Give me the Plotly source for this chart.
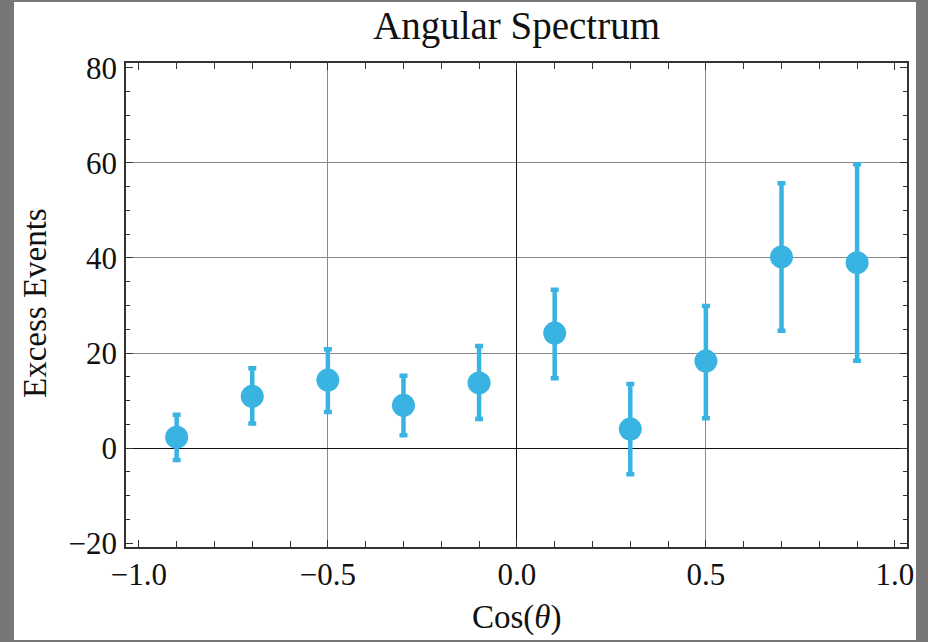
import plotly.graph_objects as go

# ---- data ----
cos_theta = [-0.9, -0.7, -0.5, -0.3, -0.1, 0.1, 0.3, 0.5, 0.7, 0.9]
excess = [2.3, 10.9, 14.3, 9.0, 13.7, 24.2, 4.0, 18.3, 40.2, 39.0]
err_plus = [4.7, 5.9, 6.5, 6.2, 7.8, 9.1, 9.5, 11.6, 15.5, 20.7]
err_minus = [4.8, 5.7, 6.7, 6.3, 7.6, 9.5, 9.5, 12.0, 15.5, 20.6]

x_tickvals = [-1.0, -0.5, 0.0, 0.5, 1.0]
x_ticktext = ["\u22121.0", "\u22120.5", "0.0", "0.5", "1.0"]
y_tickvals = [-20, 0, 20, 40, 60, 80]
y_ticktext = ["\u221220", "0", "20", "40", "60", "80"]
x_grid = [-0.5, 0.0, 0.5]
y_grid = [20, 40, 60]

title_text = "Angular Spectrum"
x_title = "Cos(<i>\u03b8</i>)"
y_title = "Excess Events"

# ---- style ----
W, H = 928, 642
ML, MR, MT, MB = 126, 21, 63, 95
BLUE = "#39B3E2"
FONT = "Liberation Serif"
GRAY_BG = "#777777"
plot_w = W - ML - MR
plot_h = H - MT - MB

fig = go.Figure()
fig.add_trace(go.Scatter(
    x=cos_theta, y=excess, mode="markers",
    marker=dict(size=23, color=BLUE),
    error_y=dict(type="data", symmetric=False, array=err_plus, arrayminus=err_minus,
                 color=BLUE, thickness=4.5, width=4),
    showlegend=False,
))

axis_common = dict(
    showline=True, linecolor="#333333", linewidth=1.5, mirror="allticks",
    ticks="inside", ticklen=7, tickwidth=1.2, tickcolor="#333333",
    showgrid=False,
    tickfont=dict(family=FONT, size=31, color="#111111"),
)

fig.update_layout(
    width=W, height=H,
    margin=dict(l=ML, r=MR, t=MT, b=MB, pad=0),
    paper_bgcolor=GRAY_BG, plot_bgcolor="white",
    title=dict(text=title_text, x=0.5, xref="paper", xanchor="center",
               y=1 - 25 / H, yref="container", yanchor="middle",
               font=dict(family=FONT, size=39, color="#111111")),
    xaxis=dict(
        range=[-1.034, 1.032], tickvals=x_tickvals, ticktext=x_ticktext,
        zeroline=True, zerolinecolor="#111111", zerolinewidth=1.3,
        minor=dict(dtick=0.1, tick0=0, ticks="inside", ticklen=6, tickcolor="#333333", tickwidth=1.2),
        ticklabelstandoff=-1,
        **axis_common,
    ),
    yaxis=dict(
        range=[-20.8, 81.0], tickvals=y_tickvals, ticktext=y_ticktext,
        zeroline=True, zerolinecolor="#111111", zerolinewidth=1.3,
        minor=dict(dtick=5, tick0=0, ticks="inside", ticklen=4, tickcolor="#333333", tickwidth=1.2),
        ticklabelstandoff=1,
        **axis_common,
    ),
    xaxis2=dict(overlaying="x", matches="x", tickvals=x_grid, showticklabels=False,
                ticks="", showgrid=True, gridcolor="#8a8a8a", gridwidth=1,
                zeroline=False, showline=False),
    yaxis2=dict(overlaying="y", matches="y", tickvals=y_grid, showticklabels=False,
                ticks="", showgrid=True, gridcolor="#8a8a8a", gridwidth=1,
                zeroline=False, showline=False),
    shapes=[dict(type="rect", xref="paper", yref="paper", layer="below",
                 x0=(14 - ML) / plot_w, x1=(916 - ML) / plot_w,
                 y0=(H - MB - 640) / plot_h, y1=(H - MB - 2) / plot_h,
                 fillcolor="white", line=dict(width=0))],
    annotations=[
        dict(text=y_title, xref="paper", yref="paper", x=0, y=0.5,
             xanchor="center", yanchor="middle", xshift=35 - ML, yshift=2,
             textangle=-90, showarrow=False,
             font=dict(family=FONT, size=33, color="#111111")),
        dict(text=x_title, xref="paper", yref="paper", x=0.5, y=0,
             xanchor="center", yanchor="middle", yshift=-(617 - (H - MB)),
             showarrow=False,
             font=dict(family=FONT, size=33, color="#111111")),
    ],
)

# invisible trace to activate the grid-only overlay axes
fig.add_trace(go.Scatter(x=[None], y=[None], xaxis="x2", yaxis="y2",
                         showlegend=False, hoverinfo="skip"))

fig.write_html("out.html")
